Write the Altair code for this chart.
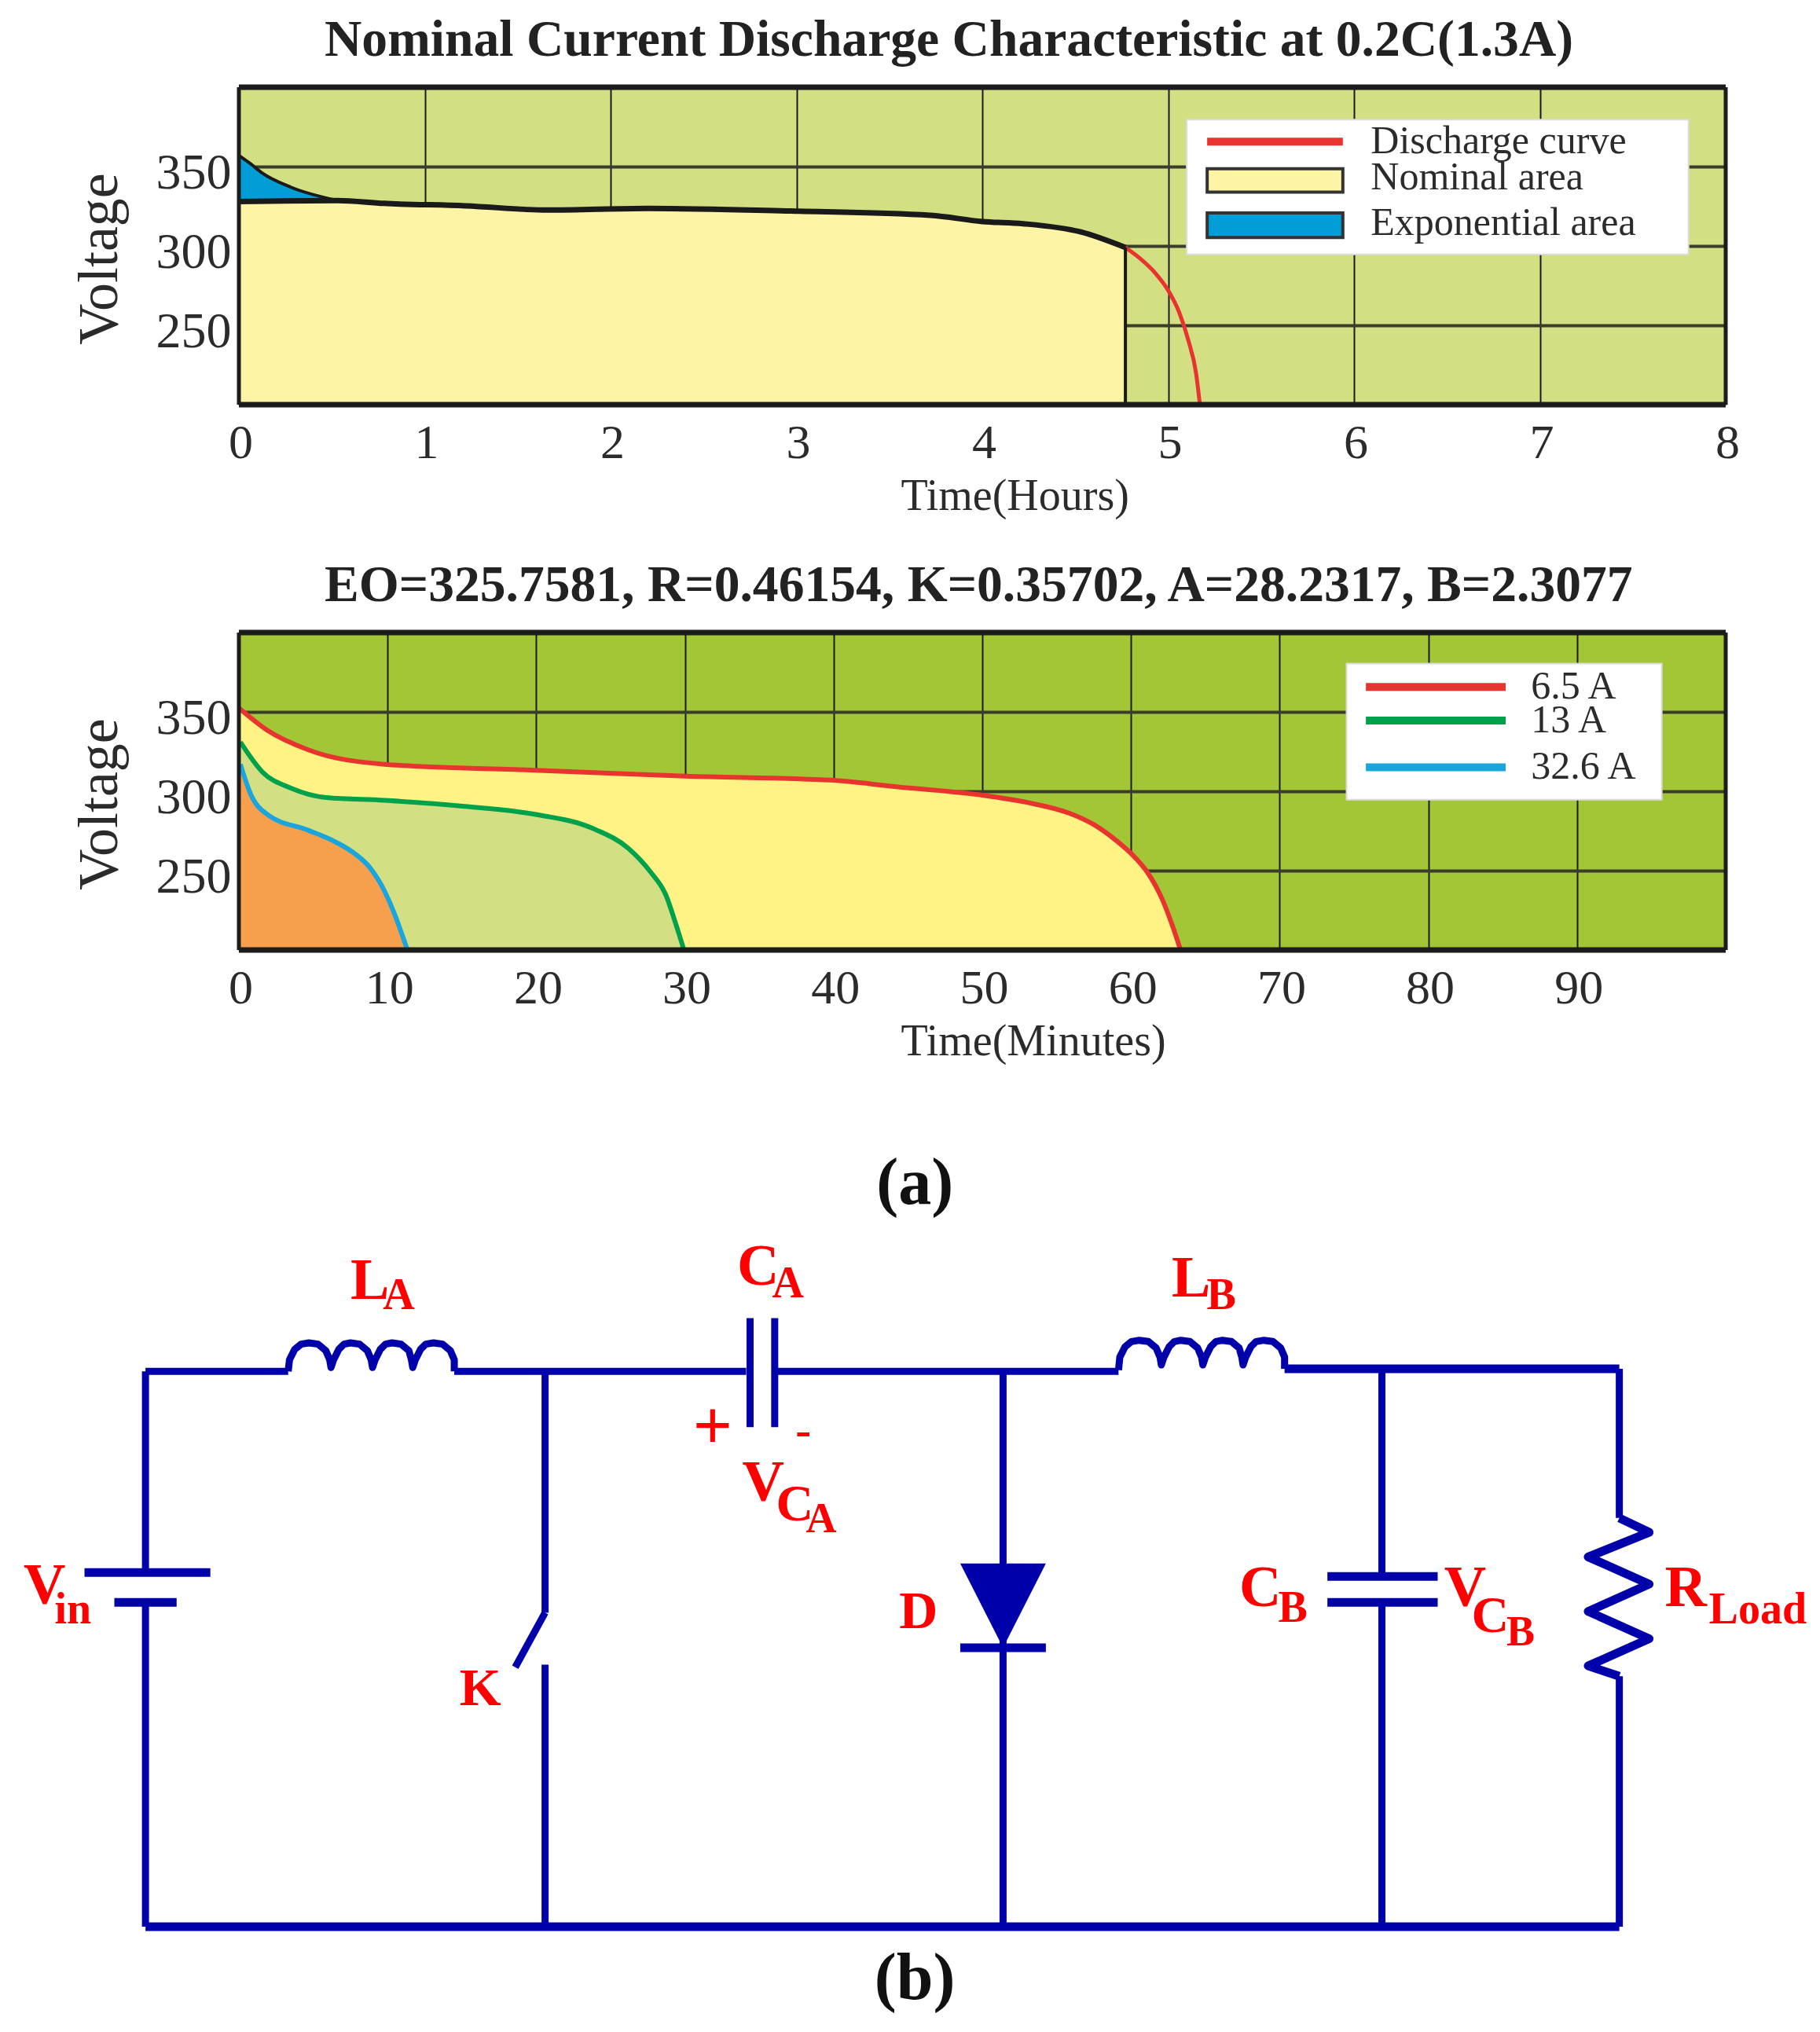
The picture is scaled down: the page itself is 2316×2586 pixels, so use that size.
import altair as alt
import pandas as pd

FONT = "Liberation Serif"
W, H = 1892, 404

# ---------- panel 1 : nominal discharge ----------
exp_h = [0, 0.06, 0.125, 0.28, 0.53]
exp_v = [357, 352, 346, 337, 328.6]
nom_h = [0, 0.53, 0.78, 1.22, 1.66, 2.2, 2.97, 3.72, 4.0, 4.22, 4.53, 4.77]
nom_v = [328, 328.6, 326.8, 325.3, 322.6, 323.7, 322, 319.3, 315.4, 314, 308.8, 299]
red_h = [4.77, 4.85, 4.93, 5.0, 5.06, 5.11, 5.15, 5.17]
red_v = [299, 292, 283, 272, 258, 240, 220, 201]

# ---------- panel 2 : three currents ----------
a65_t = [0, 1.9, 4.7, 9.8, 19.9, 30, 39.8, 44.1, 49.6, 53, 55.9, 57.5, 59, 60.2, 61.1, 62.1, 62.8, 63.3]
a65_v = [352.5, 338.5, 326, 317, 313.3, 309.5, 307, 303, 298, 293, 286, 279, 269, 259, 249, 232, 215, 201]
a13_t = [0.1, 1.6, 3.5, 5.9, 9.8, 15.2, 19.9, 23.8, 26.2, 27.7, 28.7, 29.4, 29.9]
a13_v = [331, 312, 302, 296, 294.3, 290.5, 285.5, 276.6, 264, 249, 235, 216, 201]
a32_t = [0.1, 0.8, 1.9, 4.7, 6.3, 7.6, 8.8, 9.8, 10.5, 11.0, 11.3]
a32_v = [317, 298, 285.5, 275.3, 269, 262, 252, 237, 222, 209, 201]

# ---------- panel 3 : circuit, in diagram units ----------
wires = [
    (112, 1059, 222, 1059), (350, 1059, 575, 1059), (597, 1059, 862, 1059),
    (112, 1059, 112, 1214), (112, 1237, 112, 1487),
    (420, 1059, 420, 1245), (420, 1245, 397, 1287), (420, 1285, 420, 1487),
    (773, 1059, 773, 1487),
    (1065, 1057, 1065, 1217), (1065, 1237, 1065, 1487),
    (1248, 1057, 1248, 1172), (1248, 1294, 1248, 1487),
    (578, 1018, 578, 1102), (597, 1018, 597, 1102),
]
heavy = [
    (990, 1057, 1248, 1057), (112, 1487, 1248, 1487),
    (65, 1214, 162, 1214), (88, 1237, 136, 1237),
    (1023, 1217, 1108, 1217), (1023, 1237, 1108, 1237),
    (740, 1272, 806, 1272),
]
coil_a_x = [222, 223, 227, 232, 238, 245, 251, 254, 255, 257, 261, 265, 270, 277, 283, 286, 287,
            289, 293, 297, 302, 309, 315, 317, 318, 320, 324, 328, 334, 341, 347, 350, 350]
coil_a_y = [1059, 1050, 1042, 1038, 1037, 1038, 1043, 1050, 1056, 1050, 1042, 1038, 1037, 1038, 1043, 1050, 1056,
            1050, 1042, 1038, 1037, 1038, 1043, 1050, 1056, 1050, 1042, 1038, 1037, 1038, 1043, 1050, 1059]
coil_b_x = [862, 863, 867, 872, 878, 885, 891, 894, 895, 897, 901, 905, 910, 917, 923, 926, 927,
            929, 933, 937, 942, 949, 955, 957, 958, 960, 964, 968, 974, 981, 987, 990, 990]
coil_b_y = [1058, 1048, 1040, 1036, 1035, 1036, 1041, 1048, 1054, 1048, 1040, 1036, 1035, 1036, 1041, 1048, 1054,
            1048, 1040, 1036, 1035, 1036, 1041, 1048, 1054, 1048, 1040, 1036, 1035, 1036, 1041, 1048, 1057]
zig_x = [1248, 1271, 1224, 1271, 1224, 1271, 1224, 1248]
zig_y = [1172, 1183, 1202, 1223, 1244, 1265, 1286, 1294]
diode_y = [1207, 1272]
diode_x1 = [740, 773]
diode_x2 = [806, 773]

lab_txt = ["L", "A", "C", "A", "L", "B", "+", "-", "V", "C", "A", "V", "in", "K", "D",
           "C", "B", "V", "C", "B", "R", "Load"]
lab_x = [270, 295, 568, 595, 903, 930, 534, 613, 572, 598, 621, 18, 42, 354, 693,
         955, 985, 1113, 1134, 1161, 1283, 1317]
lab_y = [1003, 1011, 992, 1002, 1001, 1011, 1119, 1116, 1159, 1174, 1183, 1238, 1253, 1316, 1257,
         1240, 1252, 1240, 1260, 1270, 1240, 1253]
lab_s = [74, 56, 74, 56, 74, 56, 88, 60, 74, 66, 54, 74, 56, 68, 68,
         74, 56, 74, 66, 54, 74, 56]
cap_txt = ["(a)", "(b)"]
cap_x = [705, 705]
cap_y = [930, 1543]

# ---------- colours ----------
BG1, BG2 = "#d2df82", "#a3c636"
YEL1, YEL2 = "#fdf4a6", "#fef384"
LGR, ORG = "#d2df82", "#f6a04d"
RED, GRN, BLU = "#e8342e", "#00a14b", "#1aa5dc"
EXPB = "#009dd6"
NAVY, LRED = "#0000aa", "#ff0000"
INK = "#2b2b2b"


def frame(xmax):
    """Heavy frame lines at the edges of the plot."""
    h = alt.Chart(pd.DataFrame({"y": [200, 400]})).mark_rule(color="#1c1c1c", strokeWidth=7).encode(y="y:Q")
    v = alt.Chart(pd.DataFrame({"x": [0, xmax]})).mark_rule(color="#1c1c1c", strokeWidth=5).encode(x="x:Q")
    return h + v


def axes(xmax, xvals, xtitle):
    x = alt.X("x:Q", scale=alt.Scale(domain=[0, xmax], nice=False, zero=False),
              axis=alt.Axis(values=xvals, title=xtitle, format="d", grid=True, gridColor="#1a1a1a", gridWidth=2,
                            domain=False, ticks=False, labelFont=FONT, labelFontSize=62, labelColor=INK,
                            labelPadding=18, labelOffset=2, labelAngle=0, labelFlush=False, labelOverlap=False,
                            titleFont=FONT, titleFontSize=56, titleFontWeight="normal", titleColor=INK,
                            titleAlign="left", titleBaseline="alphabetic", titleX=842, titleY=133))
    y = alt.Y("y:Q", scale=alt.Scale(domain=[200, 400], nice=False, zero=False),
              axis=alt.Axis(values=[250, 300, 350], title="Voltage", format="d", grid=True, gridColor="#3a3d2a",
                            gridWidth=4, domain=False, ticks=False, labelFont=FONT, labelFontSize=64, labelColor=INK,
                            labelPadding=10, labelOffset=8, labelFlush=False, labelOverlap=False,
                            titleFont=FONT, titleFontSize=72, titleFontWeight="normal", titleColor=INK,
                            titleAngle=270, titleAlign="center", titleBaseline="middle", titleX=-178, titleY=218))
    return x, y


def curve_df(xs, ys):
    return pd.DataFrame({"x": xs, "y": ys})


def legend_items(items, box, sx0, sx1, tx):
    """items: (label, kind, colour, yc, y0, y1)"""
    x0, x1, y0, y1 = box
    layers = [alt.Chart(pd.DataFrame({"x": [x0], "x2": [x1], "y": [y0], "y2": [y1]})).mark_rect(
        fill="white", stroke="#dcdcdc", strokeWidth=2).encode(x="x:Q", x2="x2:Q", y="y:Q", y2="y2:Q")]
    for lab, kind, col, yc, a, b in items:
        if kind == "line":
            layers.append(alt.Chart(pd.DataFrame({"x": [sx0], "x2": [sx1], "y": [yc]})).mark_rule(
                color=col, strokeWidth=10).encode(x="x:Q", x2="x2:Q", y="y:Q"))
        else:
            layers.append(alt.Chart(pd.DataFrame({"x": [sx0], "x2": [sx1], "y": [a], "y2": [b]})).mark_rect(
                fill=col, stroke="#333333", strokeWidth=4).encode(x="x:Q", x2="x2:Q", y="y:Q", y2="y2:Q"))
        layers.append(alt.Chart(pd.DataFrame({"x": [tx], "y": [yc], "t": [lab]})).mark_text(
            font=FONT, fontSize=50, color=INK, align="left", baseline="middle").encode(
            x="x:Q", y="y:Q", text="t:N"))
    return layers


def title(text):
    return alt.TitleParams(text=text, font=FONT, fontSize=65.6, fontWeight="bold", color="#222222",
                           anchor="start", frame="group", dx=109, offset=23)


MONO = "monotone"

# Panel 1
X, Y = axes(8, list(range(9)), "Time(Hours)")
nom_df = curve_df(nom_h, nom_v)
p1 = alt.layer(
    alt.Chart(nom_df).mark_area(color=YEL1, interpolate=MONO).encode(x=X, y=Y, y2=alt.datum(200)),
    alt.Chart(curve_df(exp_h, exp_v)).mark_area(color=EXPB, interpolate=MONO).encode(x="x:Q", y="y:Q", y2=alt.datum(328)),
    alt.Chart(curve_df(exp_h, exp_v)).mark_line(color="#1a1a1a", strokeWidth=4, interpolate=MONO).encode(x="x:Q", y="y:Q"),
    alt.Chart(curve_df(red_h, red_v)).mark_line(color=RED, strokeWidth=5, interpolate=MONO).encode(x="x:Q", y="y:Q"),
    alt.Chart(nom_df).mark_line(color="#1a1a1a", strokeWidth=7, interpolate=MONO).encode(x="x:Q", y="y:Q"),
    alt.Chart(pd.DataFrame({"x": [4.77], "y": [299], "y2": [200]})).mark_rule(color="#1a1a1a", strokeWidth=4).encode(
        x="x:Q", y="y:Q", y2="y2:Q"),
    frame(8),
    *legend_items([
        ("Discharge curve", "line", RED, 365.7, 0, 0),
        ("Nominal area", "rect", YEL1, 342.9, 348.6, 333.9),
        ("Exponential area", "rect", EXPB, 314.3, 320.8, 305.3),
    ], (5.10, 7.80, 379.6, 294.7), 5.21, 5.94, 6.09),
).properties(width=W, height=H, title=title("Nominal Current Discharge Characteristic at 0.2C(1.3A)"),
             view=alt.ViewConfig(fill=BG1, stroke=None))

# Panel 2
X2, Y2 = axes(100, list(range(0, 100, 10)), "Time(Minutes)")
p2 = alt.layer(
    alt.Chart(curve_df(a65_t, a65_v)).mark_area(color=YEL2, interpolate=MONO).encode(x=X2, y=Y2, y2=alt.datum(200)),
    alt.Chart(curve_df(a13_t, a13_v)).mark_area(color=LGR, interpolate=MONO).encode(x="x:Q", y="y:Q", y2=alt.datum(200)),
    alt.Chart(curve_df(a32_t, a32_v)).mark_area(color=ORG, interpolate=MONO).encode(x="x:Q", y="y:Q", y2=alt.datum(200)),
    alt.Chart(curve_df(a65_t, a65_v)).mark_line(color=RED, strokeWidth=6, interpolate=MONO).encode(x="x:Q", y="y:Q"),
    alt.Chart(curve_df(a13_t, a13_v)).mark_line(color=GRN, strokeWidth=6, interpolate=MONO).encode(x="x:Q", y="y:Q"),
    alt.Chart(curve_df(a32_t, a32_v)).mark_line(color=BLU, strokeWidth=6, interpolate=MONO).encode(x="x:Q", y="y:Q"),
    frame(100),
    *legend_items([
        ("6.5 A", "line", RED, 365.7, 0, 0),
        ("13 A", "line", GRN, 344.5, 0, 0),
        ("32.6 A", "line", BLU, 315.1, 0, 0),
    ], (74.5, 95.7, 380.4, 294.7), 75.8, 85.2, 86.9),
).properties(width=W, height=H, title=title("EO=325.7581, R=0.46154, K=0.35702, A=28.2317, B=2.3077"),
             view=alt.ViewConfig(fill=BG2, stroke=None))

# Panel 3 : x and y run in diagram units so every part goes through the scales
top_u, bot_u = 853.5, 1570
CX = alt.X("x:Q", scale=alt.Scale(domain=[184, 1330], nice=False, zero=False), axis=None)
CY = alt.Y("y:Q", scale=alt.Scale(domain=[bot_u, top_u], nice=False, zero=False), axis=None)


def seg_layer(segs, width):
    df = pd.DataFrame(segs, columns=["x", "y", "x2", "y2"])
    return alt.Chart(df).mark_rule(color=NAVY, strokeWidth=width).encode(x=CX, y=CY, x2="x2:Q", y2="y2:Q")


def poly_layer(xs, ys, width=9):
    df = pd.DataFrame({"x": xs, "y": ys, "i": range(len(xs))})
    return alt.Chart(df).mark_line(color=NAVY, strokeWidth=width, strokeJoin="round").encode(
        x=CX, y=CY, order="i:Q")


lab_df = pd.DataFrame({"x": lab_x, "y": lab_y, "t": lab_txt, "s": lab_s})
cap_df = pd.DataFrame({"x": cap_x, "y": cap_y, "t": cap_txt})
tri_df = pd.DataFrame({"y": diode_y, "x": diode_x1, "x2": diode_x2})
p3 = alt.layer(
    seg_layer(wires, 9),
    seg_layer(heavy, 11),
    poly_layer(coil_a_x, coil_a_y),
    poly_layer(coil_b_x, coil_b_y),
    poly_layer(zig_x, zig_y, 11),
    alt.Chart(tri_df).mark_area(color=NAVY, orient="horizontal").encode(x=CX, x2="x2:Q", y=CY),
    alt.Chart(lab_df).mark_text(font=FONT, fontWeight="bold", color=LRED, align="left", baseline="alphabetic").encode(
        x=CX, y=CY, text="t:N", size=alt.Size("s:Q", scale=None, legend=None)),
    alt.Chart(cap_df).mark_text(font=FONT, fontSize=84, fontWeight="bold", color="#111111", align="center",
                                baseline="alphabetic").encode(x=CX, y=CY, text="t:N"),
).properties(width=W, height=1183, view=alt.ViewConfig(fill=None, stroke=None))

chart = alt.vconcat(p1, p2, p3, spacing=53).properties(
    padding={"left": 21, "top": 10, "right": 0, "bottom": 0}
).configure_view(stroke=None)

chart.save("out.html", embed_options={"renderer": "svg", "actions": False})
